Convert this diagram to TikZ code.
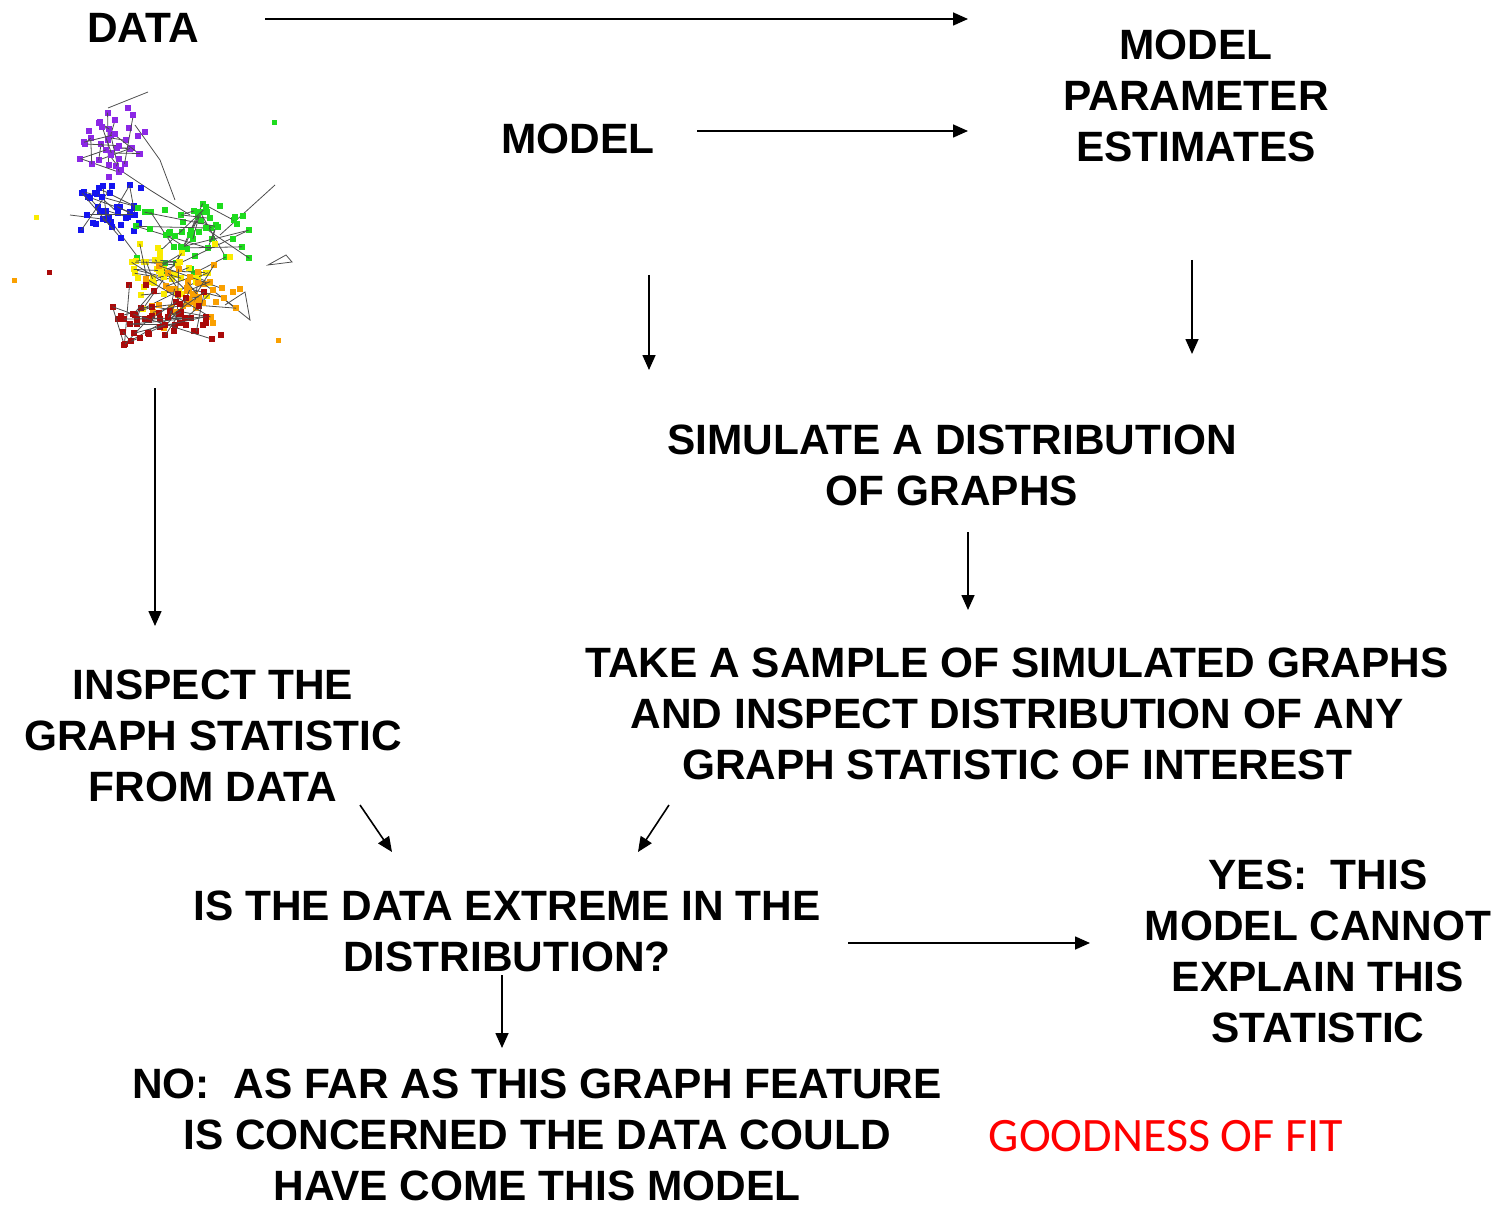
\documentclass[tikz,border=0pt]{standalone}
\usepackage{fontspec}
\setmainfont{Liberation Sans}
\newfontfamily\calfont{Carlito}
\usetikzlibrary{arrows.meta}
\tikzset{
  lbl/.style={font=\fontsize{42.4}{51}\selectfont\bfseries, align=center, inner sep=0pt},
  arr/.style={line width=1.6pt, -{Triangle[length=15pt,width=13pt]}},
  edge/.style={black!70, line width=0.8pt},
}
% one coloured group of vertices, some of them joined in a chain
\newcommand{\cluster}[6]{% colour, cx, cy, sx, sy, points
  \xdef\lastx{#2}\xdef\lasty{#3}
  \foreach \i in {1,...,#6} {
    \pgfmathsetmacro\px{#2+#4*(rand+rand)/2}
    \pgfmathsetmacro\py{#3+#5*(rand+rand)/2}
    \pgfmathsetmacro\pe{rnd}
    \ifdim\pe pt<0.45pt
      \draw[edge] (\lastx+3,\lasty+3) -- (\px+3,\py+3);
    \fi
    \xdef\lastx{\px}\xdef\lasty{\py}
    \fill[#1] (\px,\py) rectangle ++(6,6);
  }
}
\definecolor{netpurple}{RGB}{140,40,230}
\definecolor{netblue}{RGB}{20,20,240}
\definecolor{netgreen}{RGB}{30,220,30}
\definecolor{netyellow}{RGB}{250,235,0}
\definecolor{netorange}{RGB}{250,160,0}
\definecolor{netred}{RGB}{170,10,10}
\begin{document}
\begin{tikzpicture}[x=1pt,y=-1pt]
\useasboundingbox (0,0) rectangle (1496,1206);

% the network drawing
\pgfmathsetseed{11}
\draw[edge] (108,108) -- (128,100) -- (148,92);
\draw[edge] (135,125) -- (160,160) -- (175,200);
\draw[edge] (120,170) -- (150,190) -- (190,215);
\draw[edge] (225,305) -- (245,292) -- (250,320) -- (225,300);
\draw[edge] (268,265) -- (292,262) -- (286,255) -- cycle;
\draw[edge] (220,235) -- (275,185);
\draw[edge] (70,215) -- (110,220) -- (140,260);
\cluster{netpurple}{108}{135}{42}{45}{40}
\cluster{netblue}{105}{208}{45}{32}{40}
\cluster{netgreen}{190}{232}{70}{42}{55}
\cluster{netyellow}{170}{272}{62}{38}{50}
\cluster{netorange}{185}{292}{62}{38}{45}
\cluster{netred}{160}{315}{62}{35}{55}
\fill[netgreen] (272,120) rectangle ++(5,5);
\fill[netyellow] (34,215) rectangle ++(5,5);
\fill[netorange] (12,278) rectangle ++(5,5);
\fill[netorange] (276,338) rectangle ++(5,5);
\fill[netred] (47,270) rectangle ++(5,5);

% text nodes
\node[lbl] (data) at (143,28) {DATA};
\node[lbl] (model) at (578,139) {MODEL};
\node[lbl] (est) at (1196,96) {MODEL\\PARAMETER\\ESTIMATES};
\node[lbl] (sim) at (952,465) {SIMULATE A DISTRIBUTION\\OF GRAPHS};
\node[lbl] (sample) at (1017,714) {TAKE A SAMPLE OF SIMULATED GRAPHS\\AND INSPECT DISTRIBUTION OF ANY\\GRAPH STATISTIC OF INTEREST};
\node[lbl] (inspect) at (213,736) {INSPECT THE\\GRAPH STATISTIC\\FROM DATA};
\node[lbl] (extreme) at (507,931) {IS THE DATA EXTREME IN THE\\DISTRIBUTION?};
\node[lbl] (yes) at (1318,951) {YES:\ \ THIS\\MODEL CANNOT\\EXPLAIN THIS\\STATISTIC};
\node[lbl] (no) at (537,1135) {NO:\ \ AS FAR AS THIS GRAPH FEATURE\\IS CONCERNED THE DATA COULD\\HAVE COME THIS MODEL};
\node[font=\calfont\fontsize{48}{52}\selectfont, text=red, inner sep=0pt] (gof) at (1166,1136) {GOODNESS OF FIT};

% arrow ends
\coordinate (dataR) at (265,19);
\coordinate (estL1) at (968,19);
\coordinate (modelR) at (697,131);
\coordinate (estL2) at (968,131);
\coordinate (modelB) at (649,275);
\coordinate (simT1) at (649,370);
\coordinate (estB) at (1192,260);
\coordinate (simT2) at (1192,354);
\coordinate (simB) at (968,532);
\coordinate (sampleT) at (968,610);
\coordinate (netB) at (155,388);
\coordinate (inspectT) at (155,626);
\coordinate (inspectB) at (360,805);
\coordinate (extremeL) at (392,852);
\coordinate (sampleB) at (669,805);
\coordinate (extremeR) at (638,852);
\coordinate (extremeE) at (848,943);
\coordinate (yesW) at (1090,943);
\coordinate (extremeB) at (502,975);
\coordinate (noT) at (502,1048);

\draw[arr] (dataR) -- (estL1);
\draw[arr] (modelR) -- (estL2);
\draw[arr] (modelB) -- (simT1);
\draw[arr] (estB) -- (simT2);
\draw[arr] (simB) -- (sampleT);
\draw[arr] (netB) -- (inspectT);
\draw[arr] (inspectB) -- (extremeL);
\draw[arr] (sampleB) -- (extremeR);
\draw[arr] (extremeE) -- (yesW);
\draw[arr] (extremeB) -- (noT);
\end{tikzpicture}
\end{document}
